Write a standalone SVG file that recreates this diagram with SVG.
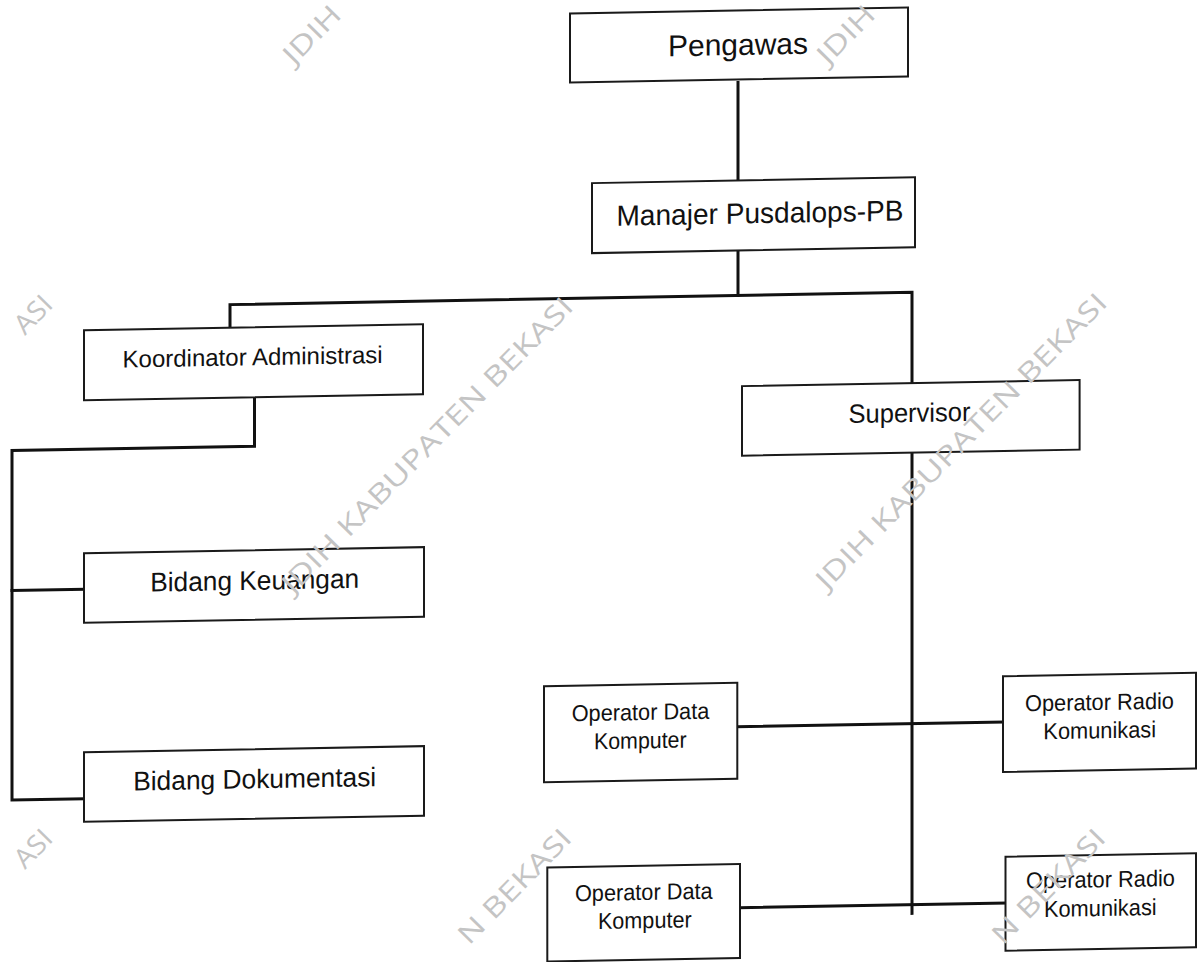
<svg xmlns="http://www.w3.org/2000/svg" width="1197" height="962" viewBox="0 0 1197 962">
<style>
.bg{fill:#ffffff}
.box{fill:#ffffff;stroke:#1a1a1a;stroke-width:2}
.ln{fill:none;stroke:#111111;stroke-width:3;stroke-linecap:square;stroke-linejoin:miter}
.t{font-family:"Liberation Sans",Arial,sans-serif;fill:#111111;text-anchor:middle}
.wm{font-family:"Open Sans","DejaVu Sans",sans-serif;fill:#c4c4c4;font-size:27px}
</style>
<rect class="bg" x="0" y="0" width="1197" height="962"/>
<g id="chart" transform="matrix(1,-0.018,0,1,0,10.764)">
<g id="connectors">
<path class="ln" d="M738,85 V181"/>
<path class="ln" d="M738,253 V298"/>
<path class="ln" d="M230,321 V298 H912 V388"/>
<path class="ln" d="M254.5,391 V440 H12 V789.5 H84"/>
<path class="ln" d="M12,580 H84"/>
<path class="ln" d="M912,459 V919"/>
<path class="ln" d="M737,729.3 H1003"/>
<path class="ln" d="M740,910.3 H1006"/>
</g>
<g id="pengawas">
<rect class="box" x="570" y="13" width="338" height="69"/>
<text class="t" x="738" y="57.5" font-size="30">Pengawas</text>
</g>
<g id="manajer">
<rect class="box" x="592" y="183" width="323" height="70"/>
<text class="t" x="760" y="226" font-size="29" textLength="287" lengthAdjust="spacingAndGlyphs">Manajer Pusdalops-PB</text>
</g>
<g id="koordinator">
<rect class="box" x="84" y="321" width="339" height="70"/>
<text class="t" x="252.6" y="359" font-size="24" textLength="260" lengthAdjust="spacingAndGlyphs">Koordinator Administrasi</text>
</g>
<g id="supervisor">
<rect class="box" x="742" y="388.7" width="337.6" height="69.6"/>
<text class="t" x="909.5" y="427.6" font-size="26.5" textLength="122" lengthAdjust="spacingAndGlyphs">Supervisor</text>
</g>
<g id="keuangan">
<rect class="box" x="84" y="544" width="340" height="69.6"/>
<text class="t" x="254.7" y="583.5" font-size="27" textLength="209" lengthAdjust="spacingAndGlyphs">Bidang Keuangan</text>
</g>
<g id="dokumentasi">
<rect class="box" x="84" y="743" width="340" height="69.6"/>
<text class="t" x="254.7" y="782.1" font-size="27" textLength="243" lengthAdjust="spacingAndGlyphs">Bidang Dokumentasi</text>
</g>
<g id="opdata1">
<rect class="box" x="544" y="685.3" width="193.3" height="96"/>
<text class="t" x="640.5" y="720.8" font-size="23" textLength="137.6" lengthAdjust="spacingAndGlyphs">Operator Data</text>
<text class="t" x="640.3" y="749.1" font-size="23" textLength="92.7" lengthAdjust="spacingAndGlyphs">Komputer</text>
</g>
<g id="opradio1">
<rect class="box" x="1003" y="683.5" width="193" height="95.8"/>
<text class="t" x="1099.5" y="719" font-size="23" textLength="149" lengthAdjust="spacingAndGlyphs">Operator Radio</text>
<text class="t" x="1099.7" y="747.3" font-size="23" textLength="112.7" lengthAdjust="spacingAndGlyphs">Komunikasi</text>
</g>
<g id="opdata2">
<rect class="box" x="547.3" y="866.6" width="192.7" height="94"/>
<text class="t" x="643.8" y="900.8" font-size="23" textLength="137.7" lengthAdjust="spacingAndGlyphs">Operator Data</text>
<text class="t" x="644.8" y="929.1" font-size="23" textLength="93.7" lengthAdjust="spacingAndGlyphs">Komputer</text>
</g>
<g id="opradio2">
<rect class="box" x="1005.5" y="864" width="190.5" height="94"/>
<text class="t" x="1100.5" y="896.3" font-size="23" textLength="149" lengthAdjust="spacingAndGlyphs">Operator Radio</text>
<text class="t" x="1100.3" y="925" font-size="23" textLength="112.7" lengthAdjust="spacingAndGlyphs">Komunikasi</text>
</g>
</g>
<g id="watermarks">
<text class="wm" transform="translate(294,66) rotate(-45.5)" textLength="70" lengthAdjust="spacingAndGlyphs">JDIH</text>
<text class="wm" transform="translate(828,66) rotate(-45.5)" textLength="70" lengthAdjust="spacingAndGlyphs">JDIH</text>
<text class="wm" transform="translate(25,336) rotate(-45.5)" textLength="42" lengthAdjust="spacingAndGlyphs">ASI</text>
<text class="wm" transform="translate(293,595) rotate(-45.5)" textLength="402" lengthAdjust="spacingAndGlyphs">JDIH KABUPATEN BEKASI</text>
<text class="wm" transform="translate(827,591) rotate(-45.5)" textLength="402" lengthAdjust="spacingAndGlyphs">JDIH KABUPATEN BEKASI</text>
<text class="wm" transform="translate(25,870) rotate(-45.5)" textLength="42" lengthAdjust="spacingAndGlyphs">ASI</text>
<text class="wm" transform="translate(469,946) rotate(-45.5)" textLength="149" lengthAdjust="spacingAndGlyphs">N BEKASI</text>
<text class="wm" transform="translate(1003,946) rotate(-45.5)" textLength="149" lengthAdjust="spacingAndGlyphs">N BEKASI</text>
</g>
</svg>
